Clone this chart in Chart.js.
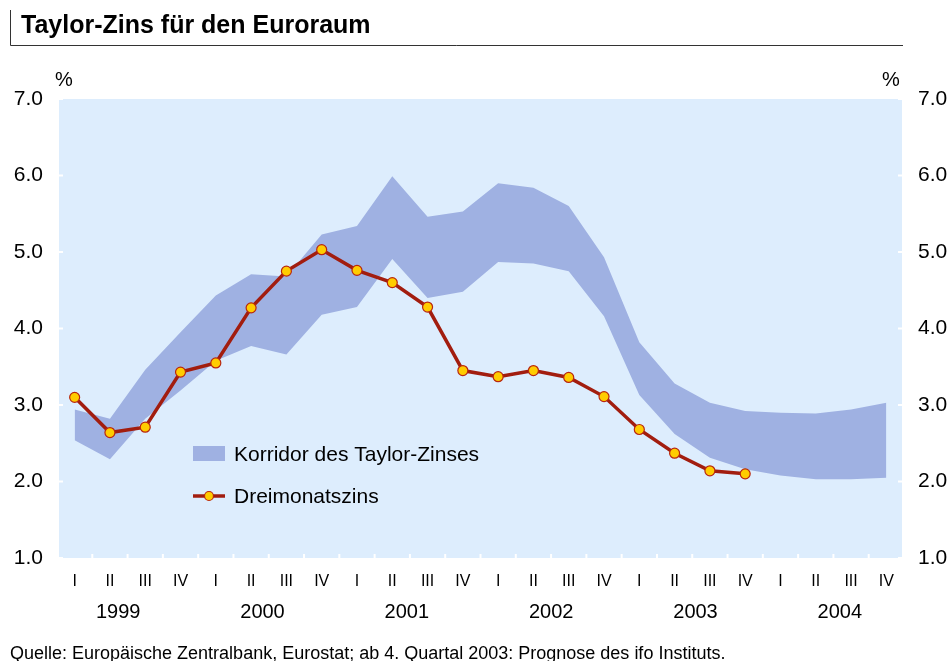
<!DOCTYPE html>
<html>
<head>
<meta charset="utf-8">
<script src="https://cdn.jsdelivr.net/npm/chart.js@4.4.1/dist/chart.umd.min.js"></script>
<style>
  body { margin: 0; background: #fff; }
  #contenedor { width: 951px; height: 661px; position: relative; }
</style>
</head>
<body>
<div id="contenedor"><canvas id="graficaTaylor"></canvas></div>
<script>
// Quartale 1999 I bis 2004 IV
const quartale = [
  'I', 'II', 'III', 'IV', 'I', 'II', 'III', 'IV', 'I', 'II', 'III', 'IV',
  'I', 'II', 'III', 'IV', 'I', 'II', 'III', 'IV', 'I', 'II', 'III', 'IV'
];
const jahre = ['1999', '2000', '2001', '2002', '2003', '2004'];

const korridorOben = [
  2.94, 2.82, 3.46, 3.95, 4.43, 4.71, 4.68, 5.23, 5.34, 5.99, 5.46, 5.53,
  5.90, 5.84, 5.60, 4.93, 3.82, 3.28, 3.03, 2.92, 2.90, 2.89, 2.94, 3.03
];
const korridorUnten = [
  2.54, 2.29, 2.82, 3.19, 3.58, 3.77, 3.66, 4.18, 4.28, 4.91, 4.40, 4.48,
  4.87, 4.85, 4.75, 4.16, 3.13, 2.62, 2.31, 2.16, 2.08, 2.03, 2.03, 2.05
];
const dreimonatszins = [
  3.10, 2.64, 2.71, 3.43, 3.55, 4.27, 4.75, 5.03, 4.76, 4.60, 4.28, 3.45,
  3.37, 3.45, 3.36, 3.11, 2.68, 2.37, 2.14, 2.10, null, null, null, null
];
const yWerte = [1, 2, 3, 4, 5, 6, 7];

const schrift = 'Liberation Sans, Arial, sans-serif';
const farbeBand = '#9fb1e2';
const farbeLinie = '#a21d0f';

const rahmen = {
  id: 'rahmen',
  afterLayout(chart) {
    // Jahreszahlen stehen im Original etwas breiter verteilt
    const s = chart.scales.x2;
    s.left = 46;
    s.right = 912;
    s.width = s.right - s.left;
    s.configure();
  },
  beforeDraw(chart) {
    const { ctx, chartArea: a } = chart;
    ctx.save();
    ctx.fillStyle = '#ddedfd';
    ctx.fillRect(a.left + 2, a.top, a.right - a.left - 4, a.bottom - a.top);

    // weisse Striche
    ctx.strokeStyle = '#ffffff';
    ctx.lineWidth = 2;
    const x = chart.scales.x;
    for (let i = 0; i < quartale.length - 1; i++) {
      const px = (x.getPixelForValue(i) + x.getPixelForValue(i + 1)) / 2;
      ctx.beginPath();
      ctx.moveTo(px, a.bottom);
      ctx.lineTo(px, a.bottom - 4);
      ctx.stroke();
    }
    const y = chart.scales.y;
    yWerte.forEach(v => {
      const py = y.getPixelForValue(v);
      ctx.beginPath();
      ctx.moveTo(a.left, py);
      ctx.lineTo(a.left + 6, py);
      ctx.moveTo(a.right - 6, py);
      ctx.lineTo(a.right, py);
      ctx.stroke();
    });

    // Titel
    ctx.strokeStyle = '#333';
    ctx.lineWidth = 1;
    ctx.beginPath();
    ctx.moveTo(10.5, 10);
    ctx.lineTo(10.5, 45.5);
    ctx.lineTo(903, 45.5);
    ctx.stroke();
    ctx.fillStyle = '#000';
    ctx.font = 'bold 25px ' + schrift;
    ctx.textBaseline = 'alphabetic';
    ctx.fillText('Taylor-Zins für den Euroraum', 21, 33);

    ctx.font = '20px ' + schrift;
    ctx.fillText('%', 55, 86);
    ctx.fillText('%', 882, 86);

    ctx.font = '18px ' + schrift;
    ctx.fillText('Quelle: Europäische Zentralbank, Eurostat; ab 4. Quartal 2003: Prognose des ifo Instituts.', 10, 659);
    ctx.restore();
  },
  afterDatasetsDraw(chart) {
    const { ctx } = chart;
    ctx.save();
    ctx.fillStyle = farbeBand;
    ctx.fillRect(193, 446, 32, 15);
    ctx.strokeStyle = farbeLinie;
    ctx.lineWidth = 3.5;
    ctx.beginPath();
    ctx.moveTo(193, 496);
    ctx.lineTo(225, 496);
    ctx.stroke();
    ctx.beginPath();
    ctx.arc(209, 496, 4.5, 0, Math.PI * 2);
    ctx.fillStyle = '#ffcc00';
    ctx.fill();
    ctx.lineWidth = 1.2;
    ctx.strokeStyle = '#b8260f';
    ctx.stroke();
    ctx.fillStyle = '#000';
    ctx.font = '21px ' + schrift;
    ctx.fillText('Korridor des Taylor-Zinses', 234, 461);
    ctx.fillText('Dreimonatszins', 234, 503);
    ctx.restore();
  }
};

new Chart(document.getElementById('graficaTaylor'), {
  type: 'line',
  data: {
    labels: quartale,
    datasets: [
      {
        label: 'Korridor oben',
        data: korridorOben,
        fill: '+1',
        backgroundColor: farbeBand,
        borderColor: 'rgba(0,0,0,0)',
        borderWidth: 0,
        pointRadius: 0,
        order: 2
      },
      {
        label: 'Korridor unten',
        data: korridorUnten,
        fill: false,
        borderColor: 'rgba(0,0,0,0)',
        borderWidth: 0,
        pointRadius: 0,
        order: 2
      },
      {
        label: 'Dreimonatszins',
        data: dreimonatszins,
        fill: false,
        borderColor: farbeLinie,
        borderWidth: 3.5,
        pointRadius: 5,
        pointBackgroundColor: '#ffcc00',
        pointBorderColor: '#b8260f',
        pointBorderWidth: 1.2,
        tension: 0,
        order: 1
      }
    ]
  },
  options: {
    responsive: true,
    maintainAspectRatio: false,
    animation: false,
    layout: { padding: { top: 99, bottom: 28, left: 0, right: 0 } },
    plugins: { legend: { display: false }, tooltip: { enabled: false } },
    scales: {
      x: {
        type: 'category',
        position: 'bottom',
        offset: true,
        grid: { display: false, drawTicks: false },
        border: { display: false },
        ticks: { color: '#000', font: { family: schrift, size: 16 }, padding: 14, maxRotation: 0, autoSkip: false },
        afterFit(s) { s.height = 30; }
      },
      x2: {
        type: 'category',
        labels: jahre,
        position: 'bottom',
        offset: true,
        grid: { display: false, drawTicks: false },
        border: { display: false },
        ticks: { color: '#000', font: { family: schrift, size: 20 }, padding: 12, maxRotation: 0, autoSkip: false },
        afterFit(s) { s.height = 45; }
      },
      y: {
        position: 'left',
        min: 1,
        max: 7,
        grid: { display: false, drawTicks: false },
        border: { display: false },
        ticks: { stepSize: 1, color: '#000', font: { family: schrift, size: 21 }, padding: 14, callback: v => v.toFixed(1) },
        afterFit(s) { s.width = 57; }
      },
      y2: {
        position: 'right',
        min: 1,
        max: 7,
        grid: { display: false, drawTicks: false },
        border: { display: false },
        ticks: { stepSize: 1, color: '#000', font: { family: schrift, size: 21 }, padding: 14, callback: v => v.toFixed(1) },
        afterFit(s) { s.width = 47; }
      }
    }
  },
  plugins: [rahmen]
});
</script>
</body>
</html>
